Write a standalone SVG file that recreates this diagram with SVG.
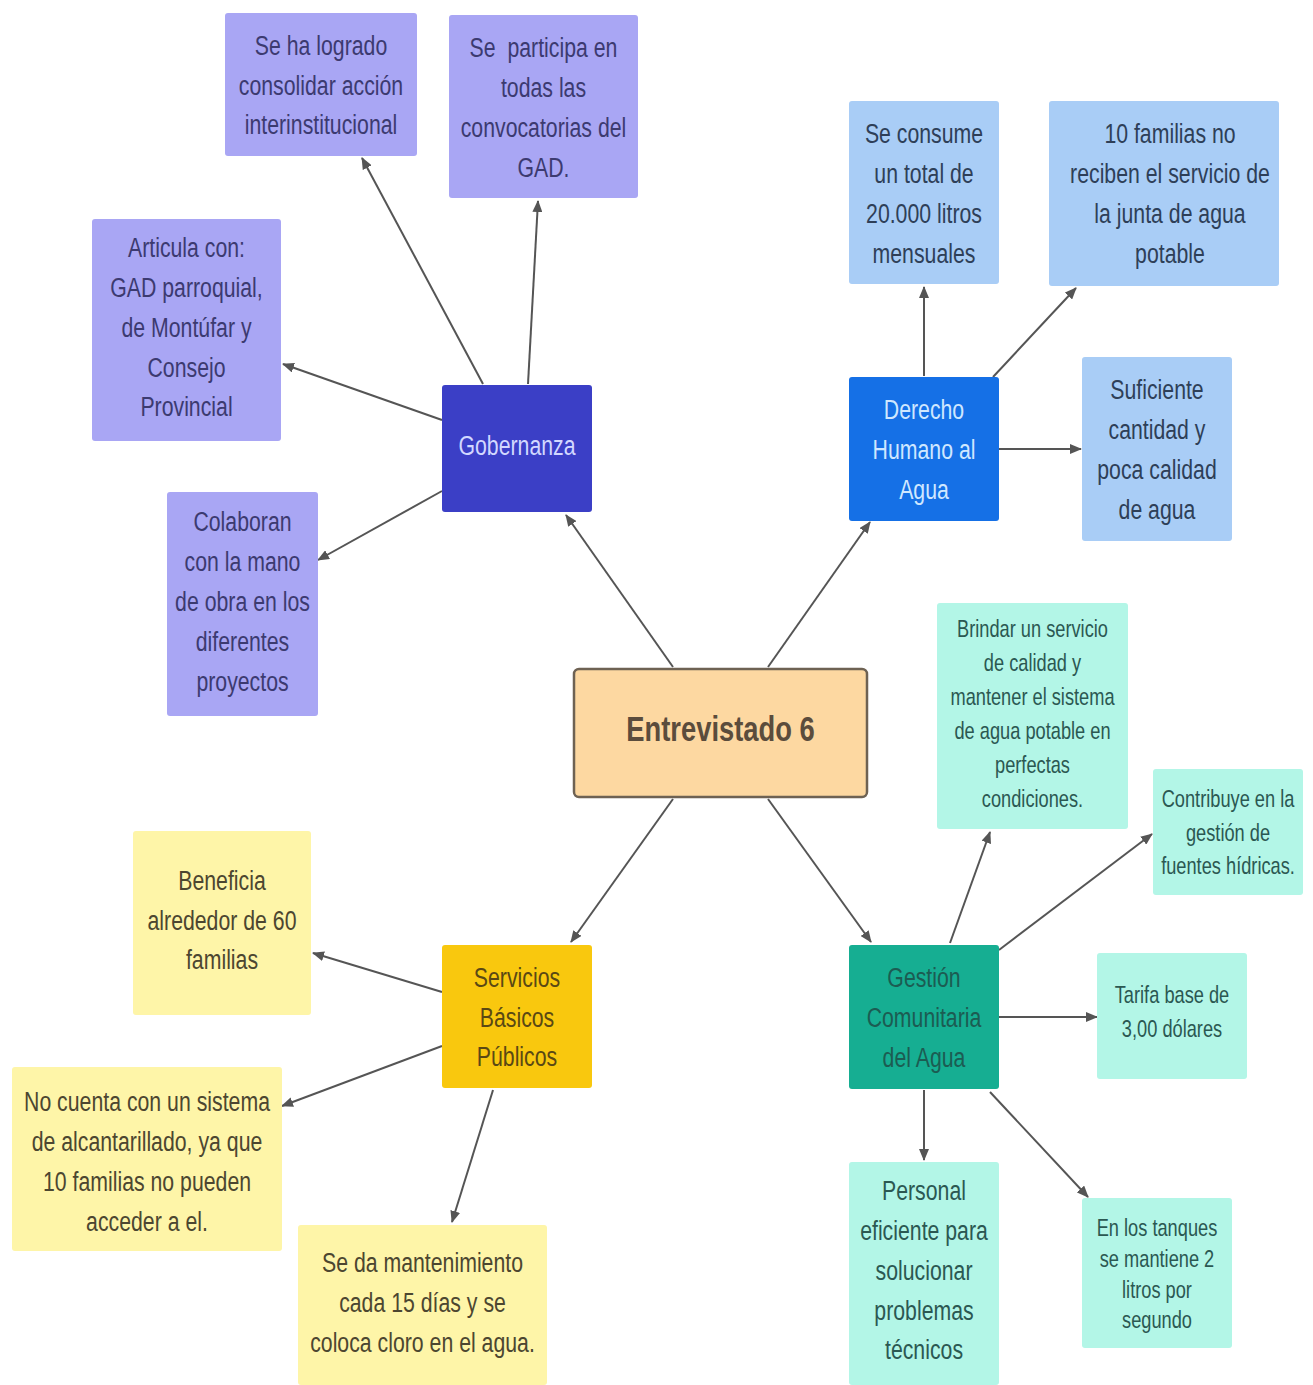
<svg xmlns="http://www.w3.org/2000/svg" width="1313" height="1385" viewBox="0 0 1313 1385">
<defs>
<style>
text{font-family:"Liberation Sans",Arial,sans-serif;text-anchor:middle}
.t28{font-size:28px}
.t24{font-size:24px}
.pl{fill:#A9A6F4}
.plt{fill:#3c3a70}
.bl{fill:#A9CDF6}
.blt{fill:#2e3f58}
.tl{fill:#B3F6E7}
.tlt{fill:#2b5852}
.yl{fill:#FEF5A8}
.ylt{fill:#4c4630}
.conn{stroke:#555;stroke-width:2;fill:none;marker-end:url(#ah)}
</style>
<marker id="ah" markerWidth="12" markerHeight="10" refX="11" refY="5" orient="auto" markerUnits="userSpaceOnUse">
<path d="M0,0 L12,5 L0,10 Z" fill="#555"/>
</marker>
</defs>
<rect width="1313" height="1385" fill="#ffffff"/>

<g id="connectors">
<line class="conn" x1="673" y1="667" x2="566" y2="515"/>
<line class="conn" x1="768" y1="667" x2="870" y2="522"/>
<line class="conn" x1="673" y1="799" x2="571" y2="942"/>
<line class="conn" x1="768" y1="799" x2="871" y2="942"/>
<line class="conn" x1="483" y1="384" x2="362" y2="158"/>
<line class="conn" x1="528" y1="384" x2="538" y2="201"/>
<line class="conn" x1="442" y1="420" x2="283" y2="364"/>
<line class="conn" x1="442" y1="491" x2="318" y2="560"/>
<line class="conn" x1="924" y1="376" x2="924" y2="287"/>
<line class="conn" x1="993" y1="377" x2="1076" y2="288"/>
<line class="conn" x1="999" y1="449" x2="1081" y2="449"/>
<line class="conn" x1="950" y1="943" x2="990" y2="832"/>
<line class="conn" x1="999" y1="950" x2="1152" y2="834"/>
<line class="conn" x1="999" y1="1017" x2="1097" y2="1017"/>
<line class="conn" x1="924" y1="1090" x2="924" y2="1160"/>
<line class="conn" x1="990" y1="1092" x2="1088" y2="1197"/>
<line class="conn" x1="442" y1="992" x2="313" y2="953"/>
<line class="conn" x1="442" y1="1046" x2="282" y2="1106"/>
<line class="conn" x1="493" y1="1090" x2="452" y2="1222"/>
</g>

<g id="center">
<rect x="574" y="669" width="293" height="128" rx="5" fill="#FDD8A1" stroke="#6e6253" stroke-width="2.5"/>
<g transform="translate(720.5 0) scale(0.76 1)"><text x="0" y="741" style="font-size:36px;font-weight:bold" fill="#5b4c3c">Entrevistado 6</text></g>
</g>

<g id="gobernanza">
<rect x="442" y="385" width="150" height="127" rx="3" fill="#3B3FC6"/>
<g transform="translate(517 0) scale(0.76 1)"><text class="t28" x="0" y="455" fill="#d2d8ff">Gobernanza</text></g>
</g>

<g id="logrado">
<rect class="pl" x="225" y="13" width="192" height="143" rx="3"/>
<g class="plt t28" transform="translate(321 0) scale(0.76 1)">
<text x="0" y="55">Se ha logrado</text>
<text x="0" y="95">consolidar acción</text>
<text x="0" y="134">interinstitucional</text>
</g>
</g>

<g id="participa">
<rect class="pl" x="449" y="15" width="189" height="183" rx="3"/>
<g class="plt t28" transform="translate(543.5 0) scale(0.76 1)">
<text x="0" y="57" xml:space="preserve">Se  participa en</text>
<text x="0" y="97">todas las</text>
<text x="0" y="137">convocatorias del</text>
<text x="0" y="177">GAD.</text>
</g>
</g>

<g id="articula">
<rect class="pl" x="92" y="219" width="189" height="222" rx="3"/>
<g class="plt t28" transform="translate(186.5 0) scale(0.76 1)">
<text x="0" y="257">Articula con:</text>
<text x="0" y="297">GAD parroquial,</text>
<text x="0" y="337">de Montúfar y</text>
<text x="0" y="377">Consejo</text>
<text x="0" y="416">Provincial</text>
</g>
</g>

<g id="colaboran">
<rect class="pl" x="167" y="492" width="151" height="224" rx="3"/>
<g class="plt t28" transform="translate(242.5 0) scale(0.76 1)">
<text x="0" y="531">Colaboran</text>
<text x="0" y="571">con la mano</text>
<text x="0" y="611">de obra en los</text>
<text x="0" y="651">diferentes</text>
<text x="0" y="691">proyectos</text>
</g>
</g>

<g id="derecho">
<rect x="849" y="377" width="150" height="144" rx="3" fill="#1570E6"/>
<g class="t28" fill="#cfe7ff" transform="translate(924 0) scale(0.76 1)">
<text x="0" y="419">Derecho</text>
<text x="0" y="459">Humano al</text>
<text x="0" y="499">Agua</text>
</g>
</g>

<g id="consume">
<rect class="bl" x="849" y="101" width="150" height="183" rx="3"/>
<g class="blt t28" transform="translate(924 0) scale(0.76 1)">
<text x="0" y="143">Se consume</text>
<text x="0" y="183">un total de</text>
<text x="0" y="223">20.000 litros</text>
<text x="0" y="263">mensuales</text>
</g>
</g>

<g id="familias10">
<rect class="bl" x="1049" y="101" width="230" height="185" rx="3"/>
<g class="blt t28" transform="translate(1170 0) scale(0.76 1)">
<text x="0" y="143">10 familias no</text>
<text x="0" y="183">reciben el servicio de</text>
<text x="0" y="223">la junta de agua</text>
<text x="0" y="263">potable</text>
</g>
</g>

<g id="suficiente">
<rect class="bl" x="1082" y="357" width="150" height="184" rx="3"/>
<g class="blt t28" transform="translate(1157 0) scale(0.76 1)">
<text x="0" y="399">Suficiente</text>
<text x="0" y="439">cantidad y</text>
<text x="0" y="479">poca calidad</text>
<text x="0" y="519">de agua</text>
</g>
</g>

<g id="gestion">
<rect x="849" y="945" width="150" height="144" rx="3" fill="#16AE92"/>
<g class="t28" fill="#1c5c52" transform="translate(924 0) scale(0.76 1)">
<text x="0" y="987">Gestión</text>
<text x="0" y="1027">Comunitaria</text>
<text x="0" y="1067">del Agua</text>
</g>
</g>

<g id="brindar">
<rect class="tl" x="937" y="603" width="191" height="226" rx="3"/>
<g class="tlt t24" transform="translate(1032.5 0) scale(0.76 1)">
<text x="0" y="637">Brindar un servicio</text>
<text x="0" y="671">de calidad y</text>
<text x="0" y="705">mantener el sistema</text>
<text x="0" y="739">de agua potable en</text>
<text x="0" y="773">perfectas</text>
<text x="0" y="807">condiciones.</text>
</g>
</g>

<g id="contribuye">
<rect class="tl" x="1153" y="769" width="150" height="126" rx="3"/>
<g class="tlt t24" transform="translate(1228 0) scale(0.76 1)">
<text x="0" y="807">Contribuye en la</text>
<text x="0" y="841">gestión de</text>
<text x="0" y="874">fuentes hídricas.</text>
</g>
</g>

<g id="tarifa">
<rect class="tl" x="1097" y="953" width="150" height="126" rx="3"/>
<g class="tlt t24" transform="translate(1172 0) scale(0.76 1)">
<text x="0" y="1003">Tarifa base de</text>
<text x="0" y="1037">3,00 dólares</text>
</g>
</g>

<g id="personal">
<rect class="tl" x="849" y="1162" width="150" height="223" rx="3"/>
<g class="tlt t28" transform="translate(924 0) scale(0.76 1)">
<text x="0" y="1200">Personal</text>
<text x="0" y="1240">eficiente para</text>
<text x="0" y="1280">solucionar</text>
<text x="0" y="1320">problemas</text>
<text x="0" y="1359">técnicos</text>
</g>
</g>

<g id="tanques">
<rect class="tl" x="1082" y="1198" width="150" height="150" rx="3"/>
<g class="tlt t24" transform="translate(1157 0) scale(0.76 1)">
<text x="0" y="1236">En los tanques</text>
<text x="0" y="1267">se mantiene 2</text>
<text x="0" y="1298">litros por</text>
<text x="0" y="1328">segundo</text>
</g>
</g>

<g id="servicios">
<rect x="442" y="945" width="150" height="143" rx="3" fill="#F9C80E"/>
<g class="t28" fill="#5a4814" transform="translate(517 0) scale(0.76 1)">
<text x="0" y="987">Servicios</text>
<text x="0" y="1027">Básicos</text>
<text x="0" y="1066">Públicos</text>
</g>
</g>

<g id="beneficia">
<rect class="yl" x="133" y="831" width="178" height="184" rx="3"/>
<g class="ylt t28" transform="translate(222 0) scale(0.76 1)">
<text x="0" y="890">Beneficia</text>
<text x="0" y="930">alrededor de 60</text>
<text x="0" y="969">familias</text>
</g>
</g>

<g id="nocuenta">
<rect class="yl" x="12" y="1067" width="270" height="184" rx="3"/>
<g class="ylt t28" transform="translate(147 0) scale(0.76 1)">
<text x="0" y="1111">No cuenta con un sistema</text>
<text x="0" y="1151">de alcantarillado, ya que</text>
<text x="0" y="1191">10 familias no pueden</text>
<text x="0" y="1231">acceder a el.</text>
</g>
</g>

<g id="mantenimiento">
<rect class="yl" x="298" y="1225" width="249" height="160" rx="3"/>
<g class="ylt t28" transform="translate(422.5 0) scale(0.76 1)">
<text x="0" y="1272">Se da mantenimiento</text>
<text x="0" y="1312">cada 15 días y se</text>
<text x="0" y="1352">coloca cloro en el agua.</text>
</g>
</g>
</svg>
